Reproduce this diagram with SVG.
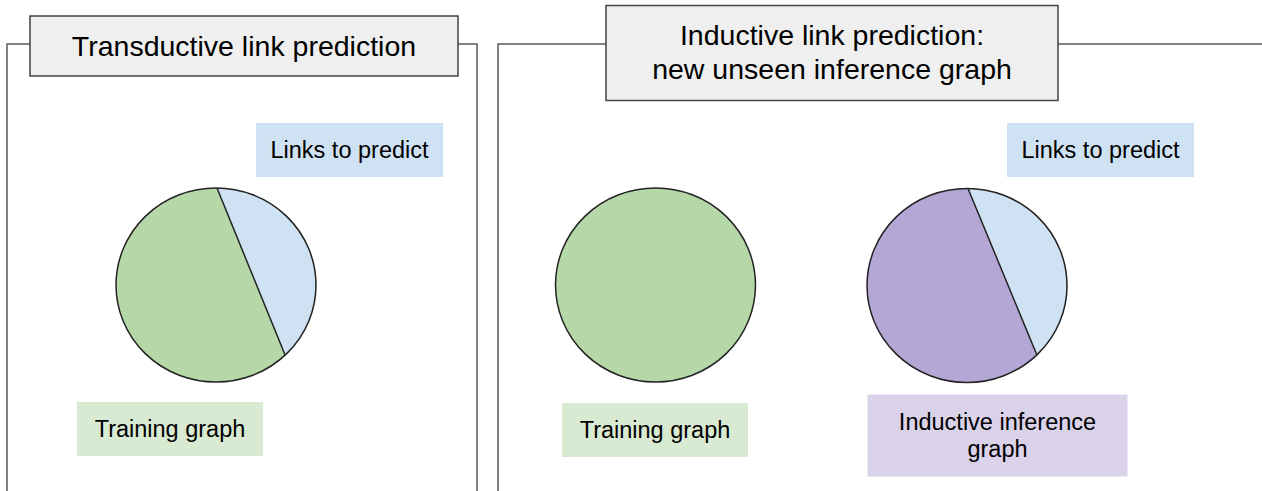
<svg xmlns="http://www.w3.org/2000/svg" width="1262" height="491" viewBox="0 0 1262 491">
<style>
.frame{fill:none;stroke:#595959;stroke-width:1.5}
.title{fill:#efefef;stroke:#434343;stroke-width:1.5}
.tt{font-family:"Liberation Sans",Arial,sans-serif;font-size:28.5px;fill:#000;text-anchor:middle}
.lt{font-family:"Liberation Sans",Arial,sans-serif;font-size:23.5px;fill:#000;text-anchor:middle}
.pie{stroke:#222;stroke-width:1.5}
</style>
<rect width="1262" height="491" fill="#fff"/>
<g id="connectors">
<path class="frame" d="M30 44 H7 V491"/>
<path class="frame" d="M458 44 H477 V491"/>
<path class="frame" d="M606 44 H498 V491"/>
<path class="frame" d="M1058 44 H1262"/>
</g>
<g id="title-transductive">
<rect class="title" x="30" y="16" width="428" height="60"/>
<text class="tt" x="244" y="55.5">Transductive link prediction</text>
</g>
<g id="title-inductive">
<rect class="title" x="606" y="5.5" width="452" height="95"/>
<text class="tt" x="832" y="45">Inductive link prediction:</text>
<text class="tt" x="832" y="79">new unseen inference graph</text>
</g>
<g id="pie-transductive">
<ellipse cx="216" cy="285" rx="100" ry="97" fill="#b6d7a8"/>
<path d="M217 188 A100 97 0 0 1 285 354.8 Z" fill="#cfe2f3"/>
<ellipse class="pie" cx="216" cy="285" rx="100" ry="97" fill="none"/>
<line class="pie" x1="217" y1="188" x2="285" y2="354.8"/>
</g>
<g id="pie-training">
<ellipse class="pie" cx="655.5" cy="285" rx="100" ry="97" fill="#b6d7a8"/>
</g>
<g id="pie-inductive">
<ellipse cx="967" cy="285.5" rx="100" ry="97" fill="#b4a7d6"/>
<path d="M968 188.5 A100 97 0 0 1 1037 355.3 Z" fill="#cfe2f3"/>
<ellipse class="pie" cx="967" cy="285.5" rx="100" ry="97" fill="none"/>
<line class="pie" x1="968" y1="188.5" x2="1037" y2="355.3"/>
</g>
<g id="label-links-left">
<rect x="256" y="123" width="187" height="54" fill="#cfe2f3"/>
<text class="lt" x="349.5" y="157.5">Links to predict</text>
</g>
<g id="label-links-right">
<rect x="1007" y="123" width="187" height="54" fill="#cfe2f3"/>
<text class="lt" x="1100.5" y="157.5">Links to predict</text>
</g>
<g id="label-training-left">
<rect x="77" y="402" width="186" height="54" fill="#d9ead3"/>
<text class="lt" x="170" y="437">Training graph</text>
</g>
<g id="label-training-right">
<rect x="562" y="403" width="186" height="54" fill="#d9ead3"/>
<text class="lt" x="655" y="438">Training graph</text>
</g>
<g id="label-inductive-inference">
<rect x="867.5" y="394.5" width="260" height="82" fill="#d9d2e9"/>
<text class="lt" x="997.5" y="429.5">Inductive inference</text>
<text class="lt" x="997.5" y="457">graph</text>
</g>
</svg>
